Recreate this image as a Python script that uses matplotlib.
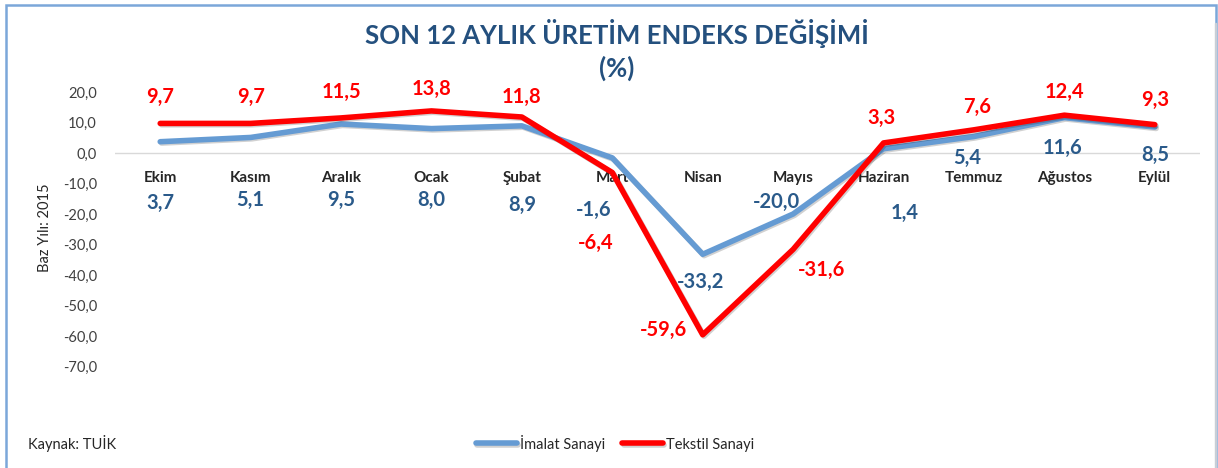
import matplotlib
matplotlib.use("Agg")
import matplotlib.pyplot as plt
from matplotlib.patches import Rectangle
import matplotlib.patheffects as pe

# Veriler
aylar = ["Ekim", "Kasım", "Aralık", "Ocak", "Şubat", "Mart", "Nisan",
         "Mayıs", "Haziran", "Temmuz", "Ağustos", "Eylül"]
imalat = [3.7, 5.1, 9.5, 8.0, 8.9, -1.6, -33.2, -20.0, 1.4, 5.4, 11.6, 8.5]
tekstil = [9.7, 9.7, 11.5, 13.8, 11.8, -6.4, -59.6, -31.6, 3.3, 7.6, 12.4, 9.3]
y_ticks = [20, 10, 0, -10, -20, -30, -40, -50, -60, -70]

# etiket kaydirmalari (piksel)
tekstil_ofset = [(0, 26), (0, 26), (0, 26), (0, 22), (0, 20), (-17, -70),
                 (-39, 5), (28, -21), (-2, 25), (3, 23), (0, 23), (0, 25)]
imalat_ofset = [(0, -61), (0, -63), (0, -76), (0, -71), (0, -79), (-19, -52),
                (-2, -28), (-17, 12), (21, -64), (-7, -21), (-2, -30), (0, -28)]

plt.rcParams['font.family'] = ['Lato', 'DejaVu Sans']

W, H = 1218, 468
fig = plt.figure(figsize=(W / 100, H / 100), dpi=100)

# cerceve
fig.patches.append(Rectangle((6 / W, -0.05), 1210 / W, 1 - 5 / H + 0.05,
                             transform=fig.transFigure, fill=False,
                             edgecolor="#7BA7D9", linewidth=1.8))
fig.patches.append(Rectangle((1215 / W, -0.05), 1 / W, 1.0,
                             transform=fig.transFigure, fill=False,
                             edgecolor="#C9CED6", linewidth=1.0))

ax = fig.add_axes([115 / W, (H - 397) / H, 1085 / W, 305 / H])
x = list(range(len(aylar)))

golge = [pe.SimpleLineShadow(offset=(1.0, -1.0), alpha=0.18), pe.Normal()]
ax.plot(x, imalat, color="#659BD3", linewidth=4, solid_capstyle="round",
        solid_joinstyle="round", label="İmalat Sanayi", path_effects=golge, zorder=3)
ax.plot(x, tekstil, color="#FF0000", linewidth=4, solid_capstyle="round",
        solid_joinstyle="round", label="Tekstil Sanayi", path_effects=golge, zorder=4)

ax.axhline(0, color="#D9D9D9", linewidth=1, zorder=1)

ax.set_xlim(-0.5, len(aylar) - 0.5)
ax.set_ylim(-80, 20)
ax.set_yticks(y_ticks)
ax.set_yticklabels([f"{v:.1f}".replace(".", ",") for v in y_ticks])
ax.tick_params(axis="y", length=0, pad=13, labelsize=10.5, labelcolor="#404040")
ax.set_xticks([])
for s in ax.spines.values():
    s.set_visible(False)

def fmt(v):
    return f"{v:.1f}".replace(".", ",")

for i, ay in enumerate(aylar):
    ax.annotate(ay, (i, 0), xytext=(0, -25), textcoords="offset pixels",
                ha="center", va="center", fontsize=11, fontweight="bold",
                color="#262626", zorder=2)
    dx, dy = tekstil_ofset[i]
    ax.annotate(fmt(tekstil[i]), (i, tekstil[i]), xytext=(dx, dy),
                textcoords="offset pixels", ha="center", va="center",
                fontsize=14.5, fontweight="bold", color="#FF0000", zorder=5)
    dx, dy = imalat_ofset[i]
    ax.annotate(fmt(imalat[i]), (i, imalat[i]), xytext=(dx, dy),
                textcoords="offset pixels", ha="center", va="center",
                fontsize=14.5, fontweight="bold", color="#2A5A8A", zorder=5)

fig.text(617 / W, 1 - 33 / H, "SON 12 AYLIK ÜRETİM ENDEKS DEĞİŞİMİ", ha="center",
         va="center", fontsize=18.5, fontweight="bold", color="#24507E")
fig.text(617 / W, 1 - 68 / H, "(%)", ha="center", va="center", fontsize=18.5,
         fontweight="bold", color="#24507E")
fig.text(45 / W, 1 - 228 / H, "Baz Yılı: 2015", rotation=90, ha="center",
         va="center", fontsize=10.5, color="#262626")
fig.text(28 / W, 1 - 443 / H, "Kaynak: TUİK", ha="left", va="center",
         fontsize=10.5, color="#262626")

fig.legend(loc="center", bbox_to_anchor=(615 / W, 1 - 443 / H), ncol=2,
           frameon=False, fontsize=10.5, handlelength=2.8, handletextpad=0.2,
           columnspacing=1.2, labelcolor="#262626")

fig.savefig("out.png", dpi=100)
